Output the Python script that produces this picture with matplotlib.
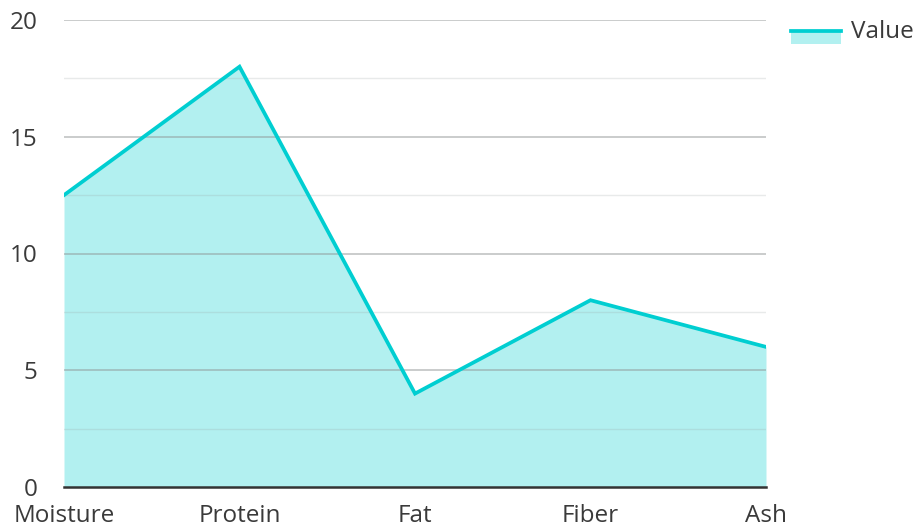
import matplotlib
matplotlib.use('Agg')
import matplotlib.pyplot as plt
from matplotlib.patches import Rectangle
from matplotlib.lines import Line2D

plt.rcParams['font.family'] = ['Open Sans', 'DejaVu Sans']

categories = ['Moisture', 'Protein', 'Fat', 'Fiber', 'Ash']
values = [12.5, 18, 4, 8, 6]
series_name = 'Value'

line_col = '#00CED1'
fill_col = '#B2F0F0'

W, H = 915, 526
fig = plt.figure(figsize=(W / 100, H / 100), dpi=100)
ax = fig.add_axes([64 / W, 1 - 487 / H, (766 - 64) / W, (487 - 20) / H])

x = range(len(categories))
ax.fill_between(x, values, 0, color=fill_col, zorder=1, lw=0)
# grid goes over the fill, faintly
for v in [2.5, 7.5, 12.5, 17.5]:
    ax.axhline(v, color='#9aa0a0', alpha=0.22, lw=1, zorder=2)
for v in [5, 10, 15, 20]:
    ax.axhline(v, color='#8f9494', alpha=0.55, lw=1.2, zorder=2)
ax.plot(x, values, color=line_col, lw=2.7, zorder=3, solid_joinstyle='miter')

ax.set_xlim(0, len(categories) - 1)
ax.set_ylim(0, 20)
ax.set_yticks([0, 5, 10, 15, 20])
ax.set_xticks(list(x))
ax.set_xticklabels(categories)
ax.tick_params(axis='both', length=0, labelsize=17.5, colors='#3a3a3a')
ax.tick_params(axis='y', pad=19)
ax.tick_params(axis='x', pad=12)
for s in ['top', 'right', 'left']:
    ax.spines[s].set_visible(False)
ax.spines['bottom'].set_color('#333333')
ax.spines['bottom'].set_linewidth(1.8)
ax.spines['bottom'].set_zorder(4)

# legend drawn by hand
fig.add_artist(Rectangle((791 / W, 1 - 44 / H), 50 / W, 14 / H,
                         transform=fig.transFigure, color=fill_col, lw=0))
fig.add_artist(Line2D([791 / W, 841 / W], [1 - 31 / H, 1 - 31 / H],
                      transform=fig.transFigure, color=line_col, lw=2.7))
fig.text(851 / W, 1 - 32 / H, series_name, fontsize=17.5, color='#3a3a3a',
         va='center', ha='left')

fig.savefig('out.png', dpi=100)
